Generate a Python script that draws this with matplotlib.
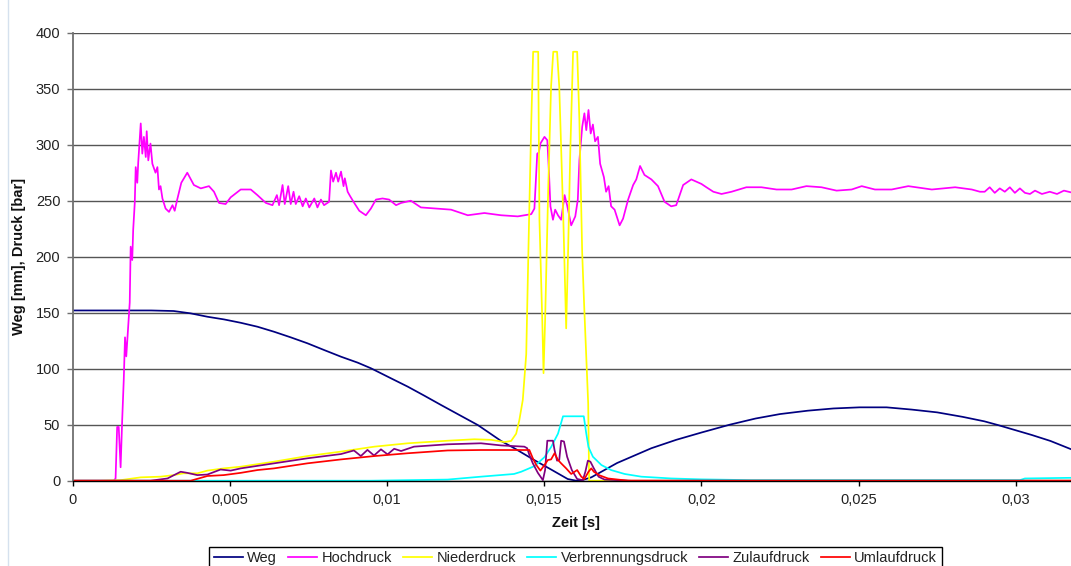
import matplotlib
matplotlib.use('Agg')
import matplotlib.pyplot as plt
from matplotlib.lines import Line2D

plt.rcParams['font.family'] = ['Liberation Sans', 'DejaVu Sans']

# ---------------- data (time [s], value) ----------------
weg = [(0, 152), (0.0025, 152), (0.00322, 151.5), (0.00376, 149.4), (0.00429, 146.4),
       (0.00482, 144), (0.00535, 141), (0.00588, 137.5), (0.00641, 133), (0.00694, 128),
       (0.00747, 122.7), (0.00800, 116.7), (0.00854, 110.7), (0.00907, 105.4),
       (0.00949, 100.4), (0.01013, 91.4), (0.01066, 84), (0.01119, 75.9),
       (0.01172, 67.6), (0.01236, 57.8), (0.01289, 49.7), (0.01363, 35.5),
       (0.01405, 29), (0.01468, 18.5), (0.01522, 10), (0.01575, 1.5), (0.01602, 0),
       (0.01621, 0.5), (0.01650, 3), (0.01732, 15.8), (0.01841, 29), (0.01920, 36.5),
       (0.02000, 43), (0.02090, 50), (0.02172, 55.5), (0.02250, 59.5), (0.02338, 62.5),
       (0.02420, 64.5), (0.02503, 65.5), (0.02589, 65.5), (0.02669, 63.5),
       (0.02750, 61), (0.02831, 57), (0.02900, 53), (0.02943, 49.7), (0.03051, 40.8),
       (0.03110, 35.5), (0.03182, 27.4)]

hochdruck = [(0, 0), (0.00131, 0), (0.00137, 2), (0.00142, 48), (0.00147, 48),
             (0.00153, 12), (0.00158, 54), (0.00163, 90), (0.00167, 128), (0.00171, 111),
             (0.00177, 137), (0.00182, 159), (0.00185, 209), (0.00190, 197), (0.00193, 224),
             (0.00198, 248), (0.00201, 280), (0.00206, 266), (0.00209, 284), (0.00217, 319),
             (0.00222, 292), (0.00227, 307), (0.00233, 289), (0.00236, 312), (0.00241, 286),
             (0.00248, 301), (0.00254, 283), (0.00264, 275), (0.00270, 280), (0.00275, 260),
             (0.00280, 263), (0.00286, 252), (0.00296, 243), (0.00307, 240), (0.00318, 246),
             (0.00325, 241), (0.00333, 251), (0.00346, 266), (0.00365, 275), (0.00386, 264),
             (0.00408, 261), (0.00434, 263), (0.00450, 258), (0.00466, 248), (0.00487, 247),
             (0.00503, 253), (0.00535, 260), (0.00567, 260), (0.00588, 255), (0.00615, 248),
             (0.00636, 246), (0.00650, 255), (0.00657, 246), (0.00668, 264), (0.00675, 247),
             (0.00686, 263), (0.00694, 247), (0.00703, 258), (0.00710, 247), (0.00721, 254),
             (0.00732, 245), (0.00742, 252), (0.00753, 244), (0.00769, 252), (0.00779, 244),
             (0.00790, 251), (0.00800, 246), (0.00816, 249), (0.00822, 277), (0.00829, 267),
             (0.00838, 275), (0.00845, 267), (0.00854, 276), (0.00862, 263), (0.00866, 270),
             (0.00875, 258), (0.00883, 254), (0.00896, 248), (0.00912, 241), (0.00933, 237),
             (0.00949, 243), (0.00965, 251), (0.00986, 252), (0.01007, 251), (0.01029, 246),
             (0.01045, 248), (0.01076, 250), (0.01108, 244), (0.01156, 243), (0.01204, 242),
             (0.01257, 237), (0.01310, 239), (0.01363, 237), (0.01416, 236), (0.01459, 238),
             (0.01469, 243), (0.01478, 292), (0.01483, 293), (0.01488, 301), (0.01501, 307),
             (0.01510, 304), (0.01515, 277), (0.01520, 245), (0.01528, 233), (0.01535, 242),
             (0.01544, 237), (0.01554, 233), (0.01565, 255), (0.01573, 246), (0.01586, 228),
             (0.01599, 236), (0.01607, 251), (0.01612, 286), (0.01621, 316), (0.01628, 328),
             (0.01634, 313), (0.01641, 331), (0.01648, 310), (0.01655, 318), (0.01662, 303),
             (0.01671, 307), (0.01678, 283), (0.01690, 271), (0.01697, 258), (0.01705, 263),
             (0.01713, 245), (0.01724, 242), (0.01740, 228), (0.01751, 234), (0.01767, 251),
             (0.01783, 264), (0.01793, 269), (0.01805, 281), (0.01819, 273), (0.01841, 269),
             (0.01862, 263), (0.01883, 249), (0.01904, 245), (0.01920, 246), (0.01942, 264),
             (0.01968, 269), (0.02000, 265), (0.02016, 262), (0.02038, 258), (0.02064, 256),
             (0.02096, 258), (0.02143, 262), (0.02191, 262), (0.02239, 260), (0.02287, 260),
             (0.02334, 263), (0.02382, 262), (0.02430, 259), (0.02478, 260), (0.02510, 263),
             (0.02552, 260), (0.02605, 260), (0.02658, 263), (0.02733, 260), (0.02807, 262),
             (0.02860, 260), (0.02886, 258), (0.02901, 258), (0.02917, 262), (0.02933, 257),
             (0.02949, 261), (0.02965, 258), (0.02981, 262), (0.02997, 257), (0.03013, 261),
             (0.03029, 257), (0.03045, 256), (0.03061, 259), (0.03083, 256), (0.03108, 258),
             (0.03131, 256), (0.03153, 259), (0.03182, 257)]

niederdruck = [(0, 0), (0.00089, 0), (0.00153, 0.5), (0.00217, 3), (0.00280, 3.6),
               (0.00322, 5), (0.00353, 6.6), (0.00397, 6.6), (0.00429, 9), (0.00481, 11),
               (0.00535, 12.5), (0.00641, 17), (0.00747, 22), (0.00854, 26), (0.00960, 30.4),
               (0.01066, 33.4), (0.01193, 35.7), (0.01278, 37), (0.01331, 36.5),
               (0.01374, 34.5), (0.01395, 35.5), (0.01411, 42), (0.01421, 54), (0.01432, 72),
               (0.01443, 113), (0.01452, 233), (0.01459, 320), (0.01465, 383), (0.01481, 383),
               (0.01485, 233), (0.01494, 143), (0.01498, 96), (0.01503, 143), (0.01513, 262),
               (0.01522, 352), (0.01529, 383), (0.01541, 383), (0.01548, 352), (0.01561, 233),
               (0.01570, 136), (0.01576, 203), (0.01583, 293), (0.01592, 383), (0.01605, 383),
               (0.01612, 322), (0.01621, 203), (0.01627, 158), (0.01640, 69), (0.01643, 0),
               (0.03182, 0)]

verbrennungsdruck = [(0, 0), (0.00949, 0), (0.01193, 1), (0.01299, 3.6), (0.01404, 6),
                     (0.01427, 8), (0.01469, 13), (0.01501, 21), (0.01522, 30), (0.01544, 42),
                     (0.01560, 57.5), (0.01626, 57.5), (0.01634, 42), (0.01641, 30),
                     (0.01655, 21.4), (0.01682, 14), (0.01713, 9.5), (0.01756, 6),
                     (0.01809, 3.6), (0.01904, 2), (0.02000, 1.2), (0.02159, 0.5),
                     (0.03013, 0.5), (0.03029, 2), (0.03182, 2.6)]

zulaufdruck = [(0, 0), (0.00248, 0), (0.00302, 2), (0.00344, 8), (0.00365, 7), (0.00397, 5),
               (0.00429, 5.5), (0.00471, 10), (0.00503, 9), (0.00535, 11), (0.00641, 15.5),
               (0.00747, 20), (0.00854, 23.8), (0.00895, 27), (0.00917, 22), (0.00938, 27.5),
               (0.00959, 22.5), (0.00981, 28), (0.01002, 23.5), (0.01023, 28.5),
               (0.01045, 26.5), (0.01086, 30.4), (0.01193, 32.5), (0.01299, 33.4),
               (0.01363, 31.5), (0.01437, 30.4), (0.01446, 29), (0.01453, 23), (0.01464, 15.5),
               (0.01480, 7), (0.01496, 0.5), (0.01503, 9.5), (0.01510, 35.7), (0.01528, 35.7),
               (0.01533, 27.4), (0.01541, 17.9), (0.01548, 18.5), (0.01554, 35.7),
               (0.01563, 35), (0.01573, 21.4), (0.01588, 9.5), (0.01605, 1.5), (0.01623, 0.5),
               (0.01631, 8), (0.01639, 17.9), (0.01647, 17), (0.01658, 11), (0.01673, 3.6),
               (0.01692, 1), (0.01777, 0), (0.03182, 0)]

umlaufdruck = [(0, 0), (0.00376, 0), (0.00429, 4.2), (0.00481, 5), (0.00535, 7),
               (0.00588, 9.5), (0.00641, 11), (0.00747, 15.5), (0.00854, 19), (0.00960, 22),
               (0.01066, 24.5), (0.01193, 27), (0.01299, 27.4), (0.01453, 27.4),
               (0.01464, 20), (0.01475, 14), (0.01488, 9), (0.01501, 14), (0.01512, 18.5),
               (0.01522, 19), (0.01533, 24.5), (0.01544, 18.5), (0.01554, 15.5),
               (0.01570, 11), (0.01586, 6), (0.01605, 9.5), (0.01618, 3.6), (0.01628, 1.5),
               (0.01641, 8), (0.01650, 11), (0.01658, 8), (0.01676, 4.8), (0.01703, 2),
               (0.01735, 1), (0.01767, 0), (0.03182, 0)]

series_names = ['Weg', 'Hochdruck', 'Niederdruck', 'Verbrennungsdruck',
                'Zulaufdruck', 'Umlaufdruck']
series_data = [weg, hochdruck, niederdruck, verbrennungsdruck, zulaufdruck, umlaufdruck]
series_colors = ['#000080', '#FF00FF', '#FFFF00', '#00FFFF', '#800080', '#FF0000']

x_ticks = [0, 0.005, 0.01, 0.015, 0.02, 0.025, 0.03]
x_tick_labels = ['0', '0,005', '0,01', '0,015', '0,02', '0,025', '0,03']
y_ticks = [0, 50, 100, 150, 200, 250, 300, 350, 400]

# ---------------- figure ----------------
W, H = 1071, 566
fig = plt.figure(figsize=(W / 100, H / 100), dpi=100)
fig.patch.set_facecolor('white')

left_px, right_px, top_px, bot_px = 72.5, 1078.7, 32.7, 480.7
ax = fig.add_axes([left_px / W, (H - bot_px) / H, (right_px - left_px) / W,
                   (bot_px - top_px) / H])

lines = []
for name, data, col in zip(series_names, series_data, series_colors):
    t = [p[0] for p in data]
    v = [p[1] for p in data]
    ln, = ax.plot(t, v, color=col, lw=1.25, label=name, solid_joinstyle='round')
    lines.append(ln)

ax.set_xlim(0, 0.032)
ax.set_ylim(0, 400)
ax.set_xticks(x_ticks)
ax.set_xticklabels(x_tick_labels)
ax.set_yticks(y_ticks)
ax.yaxis.grid(True, color='#555555', lw=1.0)
ax.xaxis.grid(False)
ax.set_axisbelow(True)

for s in ['top', 'right']:
    ax.spines[s].set_visible(False)
ax.spines['left'].set_color('#707070')
ax.spines['left'].set_linewidth(1.3)
ax.spines['bottom'].set_color('black')
ax.spines['bottom'].set_linewidth(1.0)

ax.tick_params(axis='y', direction='out', length=4.3, width=1, pad=4.5,
               labelsize=10.5, colors='#707070', labelcolor='#222222')
ax.tick_params(axis='x', direction='out', length=3.6, width=1, pad=5,
               labelsize=10.5, colors='black', labelcolor='#222222')

fig.text(575.5 / W, 1 - 523 / H, 'Zeit [s]', ha='center', va='center',
         fontsize=10.5, fontweight='bold', color='#111111')
fig.text(19 / W, 1 - 256.5 / H, 'Weg [mm], Druck [bar]', ha='center', va='center',
         rotation=90, fontsize=10.5, fontweight='bold', color='#111111')

leg = fig.legend(lines, series_names, loc='upper center',
                 bbox_to_anchor=(575.5 / W, 1 - 546.5 / H), ncol=6, frameon=True,
                 fancybox=False, edgecolor='black', framealpha=1, fontsize=10.5,
                 handlelength=2.0, handletextpad=0.3, columnspacing=0.75,
                 borderpad=0.3, borderaxespad=0)
leg.get_frame().set_linewidth(1.0)
for txt in leg.get_texts():
    txt.set_color('#222222')

# thin light border line at the left of the chart area
fig.add_artist(Line2D([7.5 / W, 7.5 / W], [0, 1], transform=fig.transFigure,
                      color='#d5e1ee', lw=1.0))

fig.savefig('out.png', dpi=100)
